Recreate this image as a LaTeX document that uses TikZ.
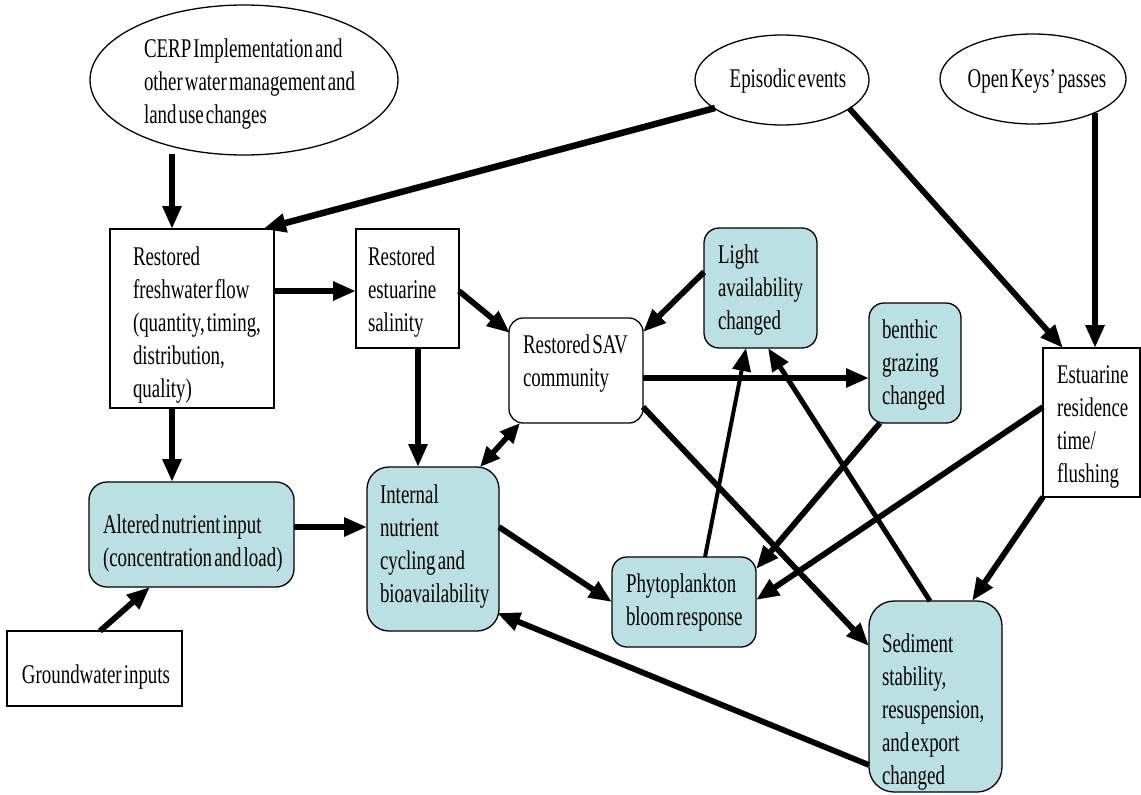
\documentclass[tikz,border=0pt]{standalone}
\usepackage{fontspec}
\setmainfont{Liberation Serif}[FakeStretch=0.70,WordSpace=0.45]
\usetikzlibrary{arrows.meta,shapes.geometric,calc}
\definecolor{boxblue}{RGB}{187,224,227}
\begin{document}
\begin{tikzpicture}[x=1pt,y=-1pt,
  every node/.style={inner sep=0pt, outer sep=0pt},
  plainbox/.style={draw=black, line width=1.3pt, fill=white, rectangle, anchor=center},
  roundwhite/.style={plainbox, rounded corners=14pt},
  bluebox/.style={plainbox, fill=boxblue, rounded corners=18pt},
  oval/.style={draw=black, ellipse, line width=1.3pt, fill=white},
  txt/.style={anchor=base west, align=flush left, text width=330pt, font=\fontsize{27}{33}\selectfont},
  ctxt/.style={anchor=base, font=\fontsize{27}{33}\selectfont},
  arr/.style={line width=5.8pt, -{Triangle[length=23pt,width=18pt]}},
  thinarr/.style={arr, line width=4pt},
  thickarr/.style={arr, line width=6.5pt},
  dblarr/.style={line width=5.5pt, {Triangle[length=20pt,width=17pt]}-{Triangle[length=20pt,width=17pt]}},
]
\useasboundingbox[fill=white] (0,0) rectangle (1141,795);

% ellipses
\node[oval, minimum width=308pt, minimum height=150pt] (cerp) at (244,80) {};
\node[oval, minimum width=174pt, minimum height=90pt] (epi) at (782,80) {};
\node[oval, minimum width=186pt, minimum height=90pt] (keys) at (1033,79) {};

% boxes
\node[plainbox, minimum width=164pt, minimum height=179pt] (fresh) at (192,318.5) {};
\node[plainbox, minimum width=103pt, minimum height=119pt] (sal) at (407.5,288.5) {};
\node[roundwhite, minimum width=134pt, minimum height=105pt] (sav) at (576,370.5) {};
\node[bluebox, rounded corners=15pt, minimum width=113pt, minimum height=120pt] (light) at (760.5,288) {};
\node[bluebox, rounded corners=15pt, minimum width=92pt, minimum height=120pt] (benthic) at (915,363) {};
\node[plainbox, minimum width=97pt, minimum height=149pt] (resid) at (1091.5,422.5) {};
\node[bluebox, minimum width=205pt, minimum height=105pt] (altered) at (191.5,534.5) {};
\node[bluebox, rounded corners=22pt, minimum width=132pt, minimum height=164pt] (internal) at (433,549) {};
\node[bluebox, rounded corners=15pt, minimum width=144pt, minimum height=90pt] (phyto) at (684,602) {};
\node[bluebox, rounded corners=25pt, minimum width=133pt, minimum height=191pt] (sed) at (935.5,696.5) {};
\node[plainbox, minimum width=175pt, minimum height=75pt] (ground) at (94.5,668.5) {};

% texts
\node[txt] (cerpT) at (144,57) {CERP Implementation and\\other water management and\\land use changes};
\node[ctxt] (epiT) at (788,87) {Episodic events};
\node[ctxt] (keysT) at (1037,87) {Open Keys’ passes};
\node[txt] (freshT) at (133,265) {Restored\\freshwater flow\\(quantity, timing,\\distribution,\\quality)};
\node[txt] (salT) at (368,265) {Restored\\estuarine\\salinity};
\node[txt] (savT) at (523,353) {Restored SAV\\community};
\node[txt] (lightT) at (718,263) {Light\\availability\\changed};
\node[txt] (benthicT) at (882,338) {benthic\\grazing\\changed};
\node[txt] (residT) at (1057,383) {Estuarine\\residence\\time/\\flushing};
\node[txt] (alteredT) at (103,533) {Altered nutrient input\\(concentration and load)};
\node[txt] (internalT) at (380,503) {Internal\\nutrient\\cycling and\\bioavailability};
\node[txt] (phytoT) at (626,592) {Phytoplankton\\bloom response};
\node[txt] (sedT) at (882,652) {Sediment\\stability,\\resuspension,\\and export\\changed};
\node[ctxt] (groundT) at (96,683) {Groundwater inputs};

% connectors
\draw[arr] ($(cerp.south)+(-72,-1)$) -- ($(fresh.north)+(-20,0)$);
\draw[thickarr] ($(epi.center)+(-67,28)$) -- ($(fresh.north east)+(-11,0)$);
\draw[arr] ($(fresh.north east)+(0,62)$) -- ($(sal.north west)+(0,62)$);
\draw[arr] ($(sal.east)+(0,2.5)$) -- ($(sav.north west)+(1,15)$);
\draw[arr] ($(light.north west)+(0,44)$) -- ($(sav.north east)+(0,14)$);
\draw[thickarr] ($(sav.east)+(0,7.5)$) -- ($(benthic.west)+(0,15)$);
\draw[arr] ($(sal.south)+(10.5,0)$) -- ($(internal.north west)+(51,0)$);
\draw[dblarr] ($(sav.south west)+(11,0)$) -- ($(internal.north east)+(-19,0)$);
\draw[arr] ($(fresh.south)+(-20,0)$) -- ($(altered.north)+(-19.5,0)$);
\draw[arr] ($(altered.east)+(0,-7.5)$) -- ($(internal.west)+(0,-22)$);
\draw[arr] ($(ground.north)+(5.5,0)$) -- ($(altered.south)+(-41.5,0)$);
\draw[arr] ($(internal.east)+(0,-22)$) -- (phyto.west);
\draw[thinarr] ($(phyto.north)+(21,0)$) -- ($(light.south)+(-14.5,0)$);
\draw[arr, line width=5pt] ($(sed.north)+(-5.5,0)$) -- ($(light.south)+(7.5,0)$);
\draw[arr] ($(sav.south east)+(0,-16)$) -- ($(sed.north west)+(0,45)$);
\draw[arr] ($(benthic.south west)+(11,0)$) -- ($(phyto.north east)+(0,12)$);
\draw[arr] ($(resid.north west)+(0,59)$) -- ($(phyto.east)+(0,-2)$);
\draw[arr] (resid.south west) -- ($(sed.north east)+(-30,0)$);
\draw[arr] ($(epi.center)+(67,28)$) -- ($(resid.north west)+(20,0)$);
\draw[arr] ($(keys.center)+(62,34)$) -- ($(resid.north)+(3.5,0)$);
\draw[arr] ($(sed.south west)+(0,-27)$) -- ($(internal.south east)+(-2,-18)$);
\end{tikzpicture}
\end{document}
